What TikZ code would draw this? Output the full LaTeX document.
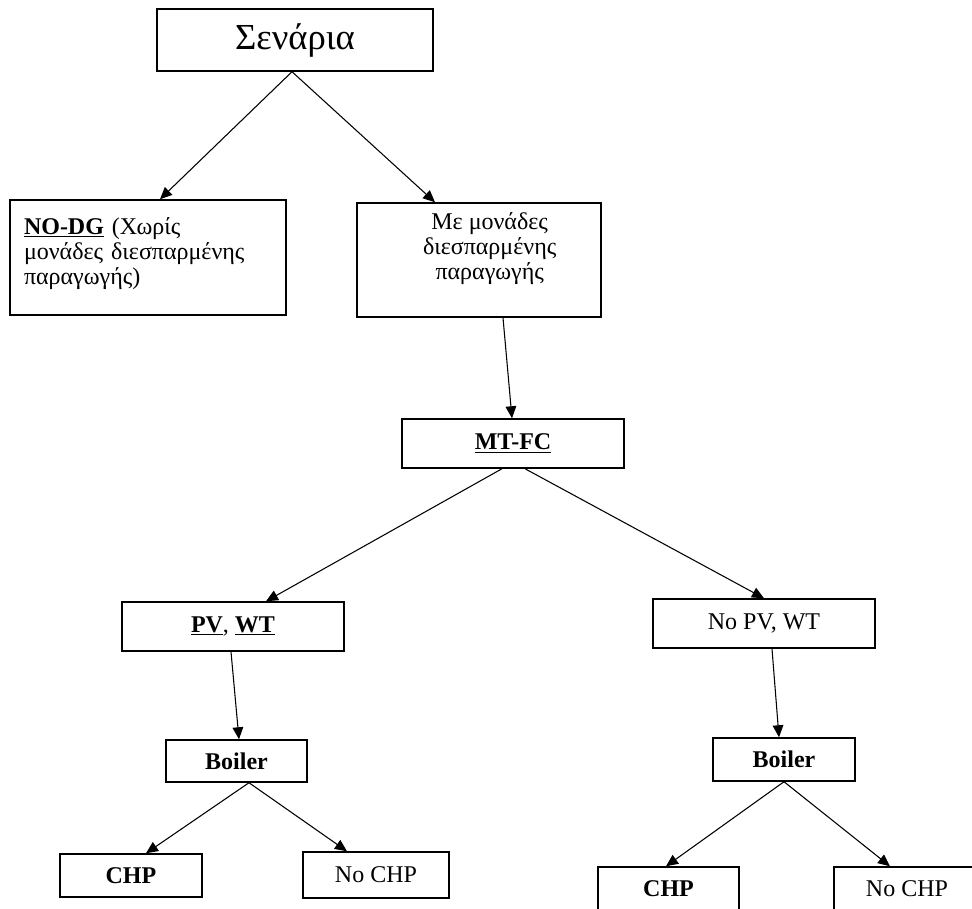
\documentclass[tikz,border=0pt]{standalone}
\usepackage{fontspec}
\setmainfont{Liberation Serif}
\usetikzlibrary{arrows.meta,calc}

\tikzset{
  box/.style={draw, line width=1.1pt, inner sep=0pt, align=center,
    font=\fontsize{18}{18.6}\selectfont},
  sz/.style 2 args={minimum width=#1*0.75pt, minimum height=#2*0.75pt},
  link/.style={line width=0.8pt, -{Triangle[length=9pt,width=8pt]}},
}

\begin{document}
\begin{tikzpicture}[x=0.75pt,y=-0.75pt]
\useasboundingbox (0,0) rectangle (972,909);
\clip (0,0) rectangle (972,909);

% first level
\node[box, sz={276}{62}, font=\fontsize{27.5}{30}\selectfont] (scen) at (295,40) {Σενάρια};

% second level
\node[box, sz={276}{115}, align=left, text width=248*0.75pt] (nodg) at (148,257.5)
  {\textbf{\underline{NO-DG}} (Χωρίς\\μονάδες διεσπαρμένης\\παραγωγής)\rule[-10pt]{0pt}{0pt}};
\node[box, sz={244}{114}] (withdg) at (479,260)
  {\hspace*{16pt}Με μονάδες\\\hspace*{16pt}διεσπαρμένης\\\hspace*{16pt}παραγωγής\rule[-21pt]{0pt}{0pt}};

% technologies
\node[box, sz={222}{49}] (mtfc) at (513,443.5) {\textbf{\underline{MT-FC}}};
\node[box, sz={222}{49}] (pvwt) at (233,626.5) {\textbf{\underline{PV}}, \textbf{\underline{WT}}};
\node[box, sz={222}{49}] (nopv) at (764,623.5) {No PV, WT};

% boilers
\node[box, sz={141}{42}] (boilL) at (236.5,761) {\textbf{Boiler}};
\node[box, sz={142}{43}] (boilR) at (784,759.5) {\textbf{Boiler}};

% CHP options
\node[box, sz={142}{43}] (chpL) at (131,875.5) {\textbf{CHP}};
\node[box, sz={146}{46}] (nochpL) at (376,875) {No CHP};
\node[box, sz={141}{43}] (chpR) at (668.5,888.5) {\textbf{CHP}};
\node[box, sz={146}{43}] (nochpR) at (907,888.5) {No CHP};

% connectors
\draw[link] ($(scen.south)+(-3,0)$) -- ($(nodg.north)+(12,0)$);
\draw[link] ($(scen.south)+(-3,0)$) -- ($(withdg.north)+(-44,0)$);
\draw[link] ($(withdg.south)+(24,0)$) -- ($(mtfc.north)+(-1,0)$);
\draw[link] ($(mtfc.south)+(-11,0)$) -- ($(pvwt.north)+(33,0)$);
\draw[link] ($(mtfc.south)+(12,0)$) -- (nopv.north);
\draw[link] ($(pvwt.south)+(-2,0)$) -- ($(boilL.north)+(2.5,0)$);
\draw[link] ($(nopv.south)+(8,0)$) -- ($(boilR.north)+(-5,0)$);
\draw[link] ($(boilL.south)+(12.5,0)$) -- ($(chpL.north)+(15,0)$);
\draw[link] ($(boilL.south)+(12.5,0)$) -- ($(nochpL.north)+(-29,0)$);
\draw[link] (boilR.south) -- ($(chpR.north)+(-2.5,0)$);
\draw[link] (boilR.south) -- ($(nochpR.north)+(-17,0)$);
\end{tikzpicture}
\end{document}
